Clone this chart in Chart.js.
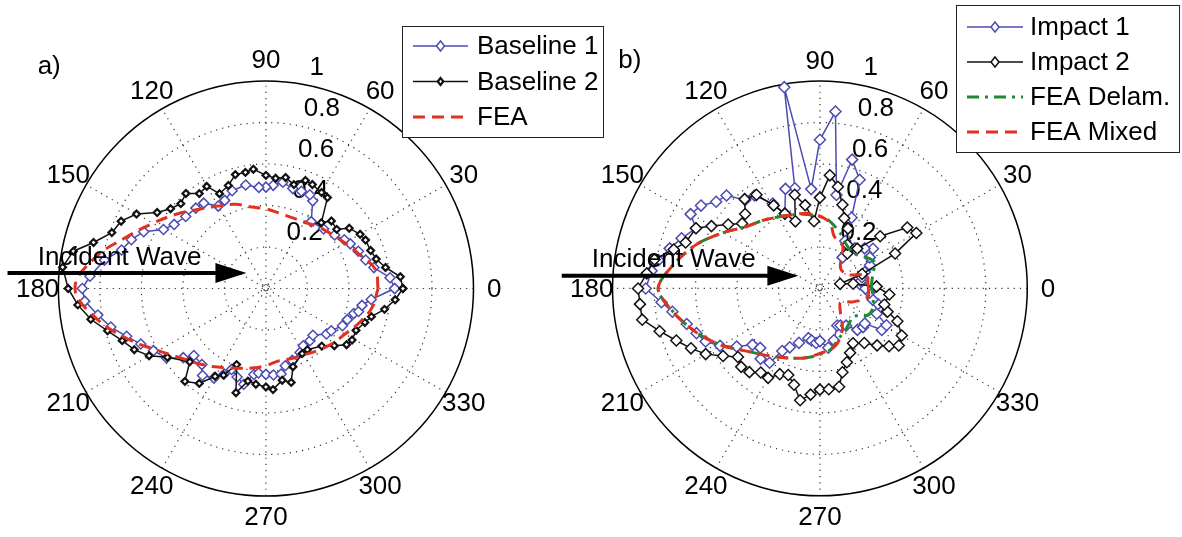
<!DOCTYPE html>
<html>
<head>
<meta charset="utf-8">
<script src="https://cdn.jsdelivr.net/npm/chart.js@4.4.1/dist/chart.umd.min.js"></script>
<style>
  body { margin: 0; background: #fff; }
  #wrap { position: relative; width: 1182px; height: 537px; background: #fff; overflow: hidden; }
  #wrap canvas { position: absolute; top: 0; }
</style>
</head>
<body>
<div id="wrap">
  <canvas id="chartA" width="620" height="537" style="left:0"></canvas>
  <canvas id="chartB" width="642" height="537" style="left:540px"></canvas>
</div>
<script>
// ---- data: angle (deg) / normalised amplitude ----
// a) baseline
const angB1 = [0, 5, 11, 16, 22, 28, 32, 38, 46, 56, 62, 65, 70, 75, 81, 86, 90, 94, 101, 109, 115, 120, 126, 131, 138, 145, 150, 155, 160, 165, 170, 176, 180, 184, 189, 194, 199, 204, 209, 215, 220, 223, 230, 234, 240, 244, 247, 252, 257, 262, 265, 270, 275, 280, 284, 290, 298, 303, 310, 315, 323, 327, 334, 339, 344, 346, 350, 354, 360];
const rB1 = [0.62, 0.60, 0.53, 0.50, 0.48, 0.46, 0.445, 0.42, 0.40, 0.39, 0.48, 0.50, 0.50, 0.50, 0.52, 0.50, 0.49, 0.49, 0.51, 0.50, 0.47, 0.46, 0.51, 0.515, 0.52, 0.54, 0.57, 0.65, 0.69, 0.72, 0.79, 0.85, 0.885, 0.875, 0.82, 0.77, 0.71, 0.66, 0.62, 0.585, 0.52, 0.475, 0.48, 0.52, 0.50, 0.46, 0.425, 0.45, 0.475, 0.42, 0.41, 0.415, 0.42, 0.42, 0.385, 0.37, 0.35, 0.33, 0.33, 0.32, 0.365, 0.375, 0.41, 0.42, 0.44, 0.46, 0.47, 0.51, 0.62];

const angB2 = [0, 5, 10, 15, 20, 26, 30, 36, 40, 46, 50, 56, 60, 66, 70, 75, 80, 85, 90, 96, 100, 105, 110, 116, 120, 125, 130, 135, 140, 145, 150, 155, 160, 165, 169, 174, 180, 185, 190, 195, 200, 205, 210, 215, 224, 229, 235, 240, 244, 249, 254, 259, 264, 270, 274, 280, 285, 289, 299, 304, 314, 320, 325, 329, 335, 341, 345, 350, 355, 360];
const rB2 = [0.66, 0.65, 0.585, 0.55, 0.537, 0.534, 0.524, 0.496, 0.445, 0.454, 0.415, 0.53, 0.536, 0.55, 0.556, 0.52, 0.545, 0.535, 0.547, 0.58, 0.57, 0.57, 0.53, 0.51, 0.57, 0.56, 0.60, 0.58, 0.60, 0.64, 0.72, 0.77, 0.79, 0.86, 0.945, 0.985, 0.953, 0.91, 0.857, 0.79, 0.737, 0.70, 0.65, 0.58, 0.51, 0.595, 0.56, 0.49, 0.466, 0.394, 0.524, 0.456, 0.465, 0.476, 0.49, 0.45, 0.47, 0.40, 0.36, 0.357, 0.387, 0.43, 0.474, 0.484, 0.479, 0.504, 0.526, 0.58, 0.625, 0.66];

const angFEA = [0, 10, 20, 30, 40, 50, 60, 70, 80, 90, 100, 110, 120, 130, 140, 150, 160, 170, 180, 190, 200, 210, 220, 230, 240, 250, 260, 270, 280, 290, 300, 310, 320, 330, 340, 350, 360];
const rFEA = [0.54, 0.535, 0.48, 0.44, 0.41, 0.39, 0.37, 0.365, 0.37, 0.385, 0.40, 0.433, 0.46, 0.50, 0.56, 0.63, 0.72, 0.84, 0.92, 0.83, 0.71, 0.60, 0.525, 0.48, 0.44, 0.41, 0.39, 0.373, 0.355, 0.36, 0.37, 0.39, 0.415, 0.44, 0.48, 0.52, 0.54];

// b) impact
const angI1 = [0, 6, 10, 15, 20, 25, 32, 37, 42, 49, 54, 62, 66, 70, 76, 80, 85, 90, 95, 100, 104, 109, 115, 119, 125, 130, 135, 140, 145, 150, 154, 160, 165, 170, 174, 180, 185, 189, 195, 200, 205, 210, 215, 220, 225, 230, 236, 239, 243, 249, 257, 261, 266, 270, 278, 285, 295, 299, 305, 312, 318, 322, 326, 331, 336, 341, 345, 348, 355, 360];
const rI1 = [0.22, 0.194, 0.20, 0.21, 0.23, 0.266, 0.284, 0.32, 0.29, 0.257, 0.186, 0.26, 0.375, 0.56, 0.643, 0.46, 0.86, 0.72, 0.483, 0.99, 0.50, 0.51, 0.40, 0.47, 0.55, 0.56, 0.637, 0.653, 0.70, 0.72, 0.665, 0.71, 0.75, 0.79, 0.816, 0.84, 0.767, 0.72, 0.665, 0.633, 0.608, 0.556, 0.49, 0.425, 0.407, 0.445, 0.434, 0.353, 0.32, 0.282, 0.247, 0.255, 0.265, 0.255, 0.29, 0.26, 0.198, 0.205, 0.22, 0.27, 0.28, 0.275, 0.36, 0.367, 0.30, 0.34, 0.29, 0.26, 0.24, 0.22];

const angI2 = [2, 8, 13, 19, 25, 30, 35, 41, 47, 52, 58, 65, 71, 75, 80, 85, 90, 95, 100, 105, 110, 115, 119, 124, 130, 135, 140, 145, 150, 154, 161, 165, 170, 175, 180, 185, 190, 195, 200, 205, 210, 215, 220, 225, 230, 235, 240, 245, 250, 255, 260, 265, 270, 275, 281, 285, 290, 295, 301, 309, 315, 320, 324, 330, 337, 341, 346, 355, 362];
const rI2 = [0.273, 0.162, 0.10, 0.215, 0.40, 0.537, 0.514, 0.385, 0.264, 0.215, 0.25, 0.32, 0.36, 0.42, 0.50, 0.55, 0.44, 0.327, 0.41, 0.47, 0.346, 0.40, 0.46, 0.547, 0.565, 0.51, 0.49, 0.54, 0.604, 0.665, 0.685, 0.73, 0.81, 0.838, 0.877, 0.871, 0.87, 0.80, 0.737, 0.686, 0.636, 0.57, 0.516, 0.537, 0.529, 0.497, 0.50, 0.458, 0.446, 0.483, 0.55, 0.516, 0.49, 0.49, 0.485, 0.42, 0.38, 0.344, 0.31, 0.34, 0.39, 0.435, 0.47, 0.456, 0.406, 0.345, 0.32, 0.336, 0.273];

const angDelam = [0, 5, 16, 26, 34, 47, 60, 70, 84, 97, 110, 120, 130, 140, 150, 160, 170, 180, 190, 200, 210, 220, 230, 240, 250, 260, 270, 280, 290, 302, 310, 320, 330, 339, 350, 360];
const rDelam = [0.25, 0.25, 0.266, 0.293, 0.27, 0.234, 0.25, 0.286, 0.337, 0.36, 0.38, 0.40, 0.43, 0.465, 0.54, 0.63, 0.71, 0.78, 0.71, 0.63, 0.55, 0.47, 0.42, 0.385, 0.36, 0.34, 0.32, 0.30, 0.26, 0.235, 0.22, 0.21, 0.262, 0.273, 0.26, 0.25];

const angMixed = [0, 7, 16, 27, 45, 58, 62, 75, 81, 90, 100, 110, 120, 130, 140, 150, 160, 170, 180, 190, 200, 210, 220, 230, 240, 250, 260, 270, 280, 288, 298, 301, 312, 326, 338, 350, 360];
const rMixed = [0.234, 0.233, 0.236, 0.148, 0.14, 0.205, 0.234, 0.263, 0.32, 0.35, 0.37, 0.38, 0.40, 0.43, 0.465, 0.54, 0.63, 0.71, 0.78, 0.71, 0.63, 0.55, 0.47, 0.42, 0.385, 0.36, 0.34, 0.315, 0.30, 0.277, 0.23, 0.21, 0.147, 0.12, 0.173, 0.235, 0.234];

// axis ticks
const ringTicks = [0.2, 0.4, 0.6, 0.8, 1];
const angleTicks = [0, 30, 60, 90, 120, 150, 180, 210, 240, 270, 300, 330];

// ---- helpers ----
const DEG = Math.PI / 180;
const FONT = "26px 'Liberation Sans', Arial, Helvetica, sans-serif";
const PX = 212; // pixels per unit radius

function toXY(ang, r) {
    return ang.map((a, i) => ({ x: r[i] * Math.cos(a * DEG), y: r[i] * Math.sin(a * DEG) }));
}

function diamond(ctx, x, y, r, fill, stroke, lw) {
    ctx.beginPath();
    ctx.moveTo(x, y - r); ctx.lineTo(x + r * 0.8, y); ctx.lineTo(x, y + r); ctx.lineTo(x - r * 0.8, y);
    ctx.closePath();
    ctx.fillStyle = fill; ctx.fill();
    ctx.setLineDash([]); ctx.lineWidth = lw; ctx.strokeStyle = stroke; ctx.stroke();
}

// polar grid in MATLAB style, drawn under the data
const polarGrid = {
    id: 'polarGrid',
    beforeDatasetsDraw(chart) {
        const { ctx, scales: { x, y } } = chart;
        const cx = x.getPixelForValue(0), cy = y.getPixelForValue(0);
        const R = x.getPixelForValue(1) - cx;
        ctx.save();
        ctx.strokeStyle = '#333'; ctx.lineWidth = 1.2; ctx.setLineDash([1.2, 5]);
        ringTicks.slice(0, -1).forEach(v => { ctx.beginPath(); ctx.arc(cx, cy, v * R, 0, 2 * Math.PI); ctx.stroke(); });
        ctx.beginPath(); ctx.arc(cx, cy, 5, 0, 2 * Math.PI); ctx.stroke();
        for (let a = 30; a <= 180; a += 30) {
            const dx = R * Math.cos(a * DEG), dy = R * Math.sin(a * DEG);
            ctx.beginPath(); ctx.moveTo(cx - dx, cy + dy); ctx.lineTo(cx + dx, cy - dy); ctx.stroke();
        }
        ctx.setLineDash([]);
        ctx.strokeStyle = '#000'; ctx.lineWidth = 1.5;
        ctx.beginPath(); ctx.arc(cx, cy, R, 0, 2 * Math.PI); ctx.stroke();

        ctx.fillStyle = '#000'; ctx.font = FONT;
        ctx.textAlign = 'center'; ctx.textBaseline = 'middle';
        angleTicks.forEach(a => {
            ctx.fillText(String(a), cx + 1.1 * R * Math.cos(a * DEG), cy - 1.1 * R * Math.sin(a * DEG) + 1);
        });
        ctx.textAlign = 'left'; ctx.textBaseline = 'bottom';
        ringTicks.forEach(v => {
            const rr = (v + 0.01) * R;
            ctx.fillText('  ' + v, cx + rr * Math.cos(82 * DEG), cy - rr * Math.sin(82 * DEG));
        });
        ctx.restore();
    }
};

// arrow, panel letter and boxed legend on top
const overlay = {
    id: 'overlay',
    afterDatasetsDraw(chart, args, opts) {
        const { ctx, scales: { x, y } } = chart;
        ctx.save();
        ctx.font = FONT; ctx.fillStyle = '#000';

        // incident wave arrow
        const ay = y.getPixelForValue(opts.arrow.y);
        const ax0 = x.getPixelForValue(opts.arrow.x0), ax1 = x.getPixelForValue(opts.arrow.x1);
        ctx.strokeStyle = '#000'; ctx.lineWidth = 4;
        ctx.beginPath(); ctx.moveTo(ax0, ay); ctx.lineTo(ax1 - 25, ay); ctx.stroke();
        ctx.beginPath(); ctx.moveTo(ax1, ay); ctx.lineTo(ax1 - 31, ay - 10); ctx.lineTo(ax1 - 31, ay + 10); ctx.closePath(); ctx.fill();
        ctx.textAlign = 'center'; ctx.textBaseline = 'alphabetic';
        ctx.fillText('Incident Wave', x.getPixelForValue(opts.arrow.tx), y.getPixelForValue(opts.arrow.ty));

        // panel letter
        ctx.textAlign = 'left';
        ctx.fillText(opts.panel.text, x.getPixelForValue(opts.panel.x), y.getPixelForValue(opts.panel.y));

        // legend
        const b = opts.legend;
        ctx.fillStyle = '#fff'; ctx.fillRect(b.x, b.y, b.w, b.h);
        ctx.strokeStyle = '#222'; ctx.lineWidth = 1; ctx.strokeRect(b.x + 0.5, b.y + 0.5, b.w, b.h);
        chart.data.datasets.forEach((ds, i) => {
            const yy = b.y + b.first + i * b.step;
            ctx.strokeStyle = ds.borderColor; ctx.lineWidth = ds.borderWidth;
            ctx.setLineDash(ds.borderDash || []);
            ctx.beginPath(); ctx.moveTo(b.x + b.s0, yy); ctx.lineTo(b.x + b.s1, yy); ctx.stroke();
            if (ds.pointRadius > 0) {
                diamond(ctx, b.x + (b.s0 + b.s1) / 2, yy, ds.legendMark, ds.pointBackgroundColor, ds.borderColor, ds.pointBorderWidth);
            }
            ctx.setLineDash([]);
            ctx.fillStyle = '#000'; ctx.textAlign = 'left'; ctx.textBaseline = 'middle';
            ctx.fillText(ds.label, b.x + b.tx, yy + 1);
        });
        ctx.restore();
    }
};

function polarOptions(canvasW, cxPix, extra) {
    const xmin = -cxPix / PX, ymax = 289 / PX;
    return {
        responsive: false,
        animation: false,
        layout: { padding: 0 },
        scales: {
            x: { type: 'linear', display: false, min: xmin, max: xmin + canvasW / PX },
            y: { type: 'linear', display: false, min: ymax - 537 / PX, max: ymax }
        },
        plugins: { legend: { display: false }, tooltip: { enabled: false }, overlay: extra }
    };
}

const BLUE = '#4b4bb2', BLACK = '#111111', RED = '#e2321f', GREEN = '#1f8a33';

// ---- chart a) ----
new Chart(document.getElementById('chartA'), {
    type: 'scatter',
    data: {
        datasets: [
            { label: 'Baseline 1', data: toXY(angB1, rB1), showLine: true, borderColor: BLUE, borderWidth: 1.5,
              pointStyle: 'rectRot', pointRadius: 5, pointBorderWidth: 1.5, pointBackgroundColor: '#fff', pointBorderColor: BLUE, order: 2, legendMark: 5 },
            { label: 'Baseline 2', data: toXY(angB2, rB2), showLine: true, borderColor: BLACK, borderWidth: 1.5,
              pointStyle: 'rectRot', pointRadius: 3.4, pointBorderWidth: 2.2, pointBackgroundColor: '#fff', pointBorderColor: BLACK, order: 1, legendMark: 3.5 },
            { label: 'FEA', data: toXY(angFEA, rFEA), showLine: true, borderColor: RED, borderWidth: 3, borderDash: [12, 7],
              tension: 0.4, pointRadius: 0, order: 0 }
        ]
    },
    options: polarOptions(620, 265, {
        arrow: { x0: -1.245, x1: -0.094, y: 0.075, tx: -0.705, ty: 0.113 },
        panel: { text: 'a)', x: -1.10, y: 1.035 },
        legend: { x: 402, y: 26, w: 201, h: 111, first: 20, step: 35.5, s0: 11, s1: 66, tx: 75 }
    }),
    plugins: [polarGrid, overlay]
});

// ---- chart b) ----
new Chart(document.getElementById('chartB'), {
    type: 'scatter',
    data: {
        datasets: [
            { label: 'Impact 1', data: toXY(angI1, rI1), showLine: true, borderColor: BLUE, borderWidth: 1.5,
              pointStyle: 'rectRot', pointRadius: 5.5, pointBorderWidth: 1.5, pointBackgroundColor: '#fff', pointBorderColor: BLUE, order: 3, legendMark: 5 },
            { label: 'Impact 2', data: toXY(angI2, rI2), showLine: true, borderColor: BLACK, borderWidth: 1.5,
              pointStyle: 'rectRot', pointRadius: 5.5, pointBorderWidth: 1.5, pointBackgroundColor: '#fff', pointBorderColor: BLACK, order: 2, legendMark: 5 },
            { label: 'FEA Delam.', data: toXY(angDelam, rDelam), showLine: true, borderColor: GREEN, borderWidth: 3, borderDash: [12, 6, 3, 6],
              tension: 0.3, pointRadius: 0, order: 1 },
            { label: 'FEA Mixed', data: toXY(angMixed, rMixed), showLine: true, borderColor: RED, borderWidth: 3, borderDash: [12, 7],
              tension: 0.3, pointRadius: 0, order: 0 }
        ]
    },
    options: polarOptions(642, 279, {
        arrow: { x0: -1.245, x1: -0.104, y: 0.061, tx: -0.705, ty: 0.104 },
        panel: { text: 'b)', x: -0.972, y: 1.07 },
        legend: { x: 416, y: 5, w: 223, h: 147, first: 22, step: 35, s0: 11, s1: 67, tx: 74 }
    }),
    plugins: [polarGrid, overlay]
});
</script>
</body>
</html>
